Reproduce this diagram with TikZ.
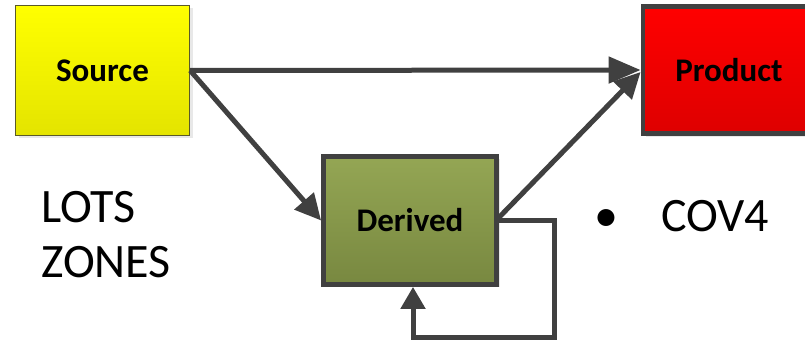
\documentclass[tikz,border=0pt]{standalone}
\usepackage{fontspec}
\setmainfont{Carlito}
\usetikzlibrary{arrows.meta,shadows}
\definecolor{edgegray}{RGB}{64,64,64}
\definecolor{srcedge}{RGB}{90,90,40}
\tikzset{
  box/.style={rectangle, inner sep=0pt, font=\fontsize{33}{39}\selectfont\bfseries,
    drop shadow={opacity=0.18, shadow xshift=3pt, shadow yshift=-3pt}},
  thickbox/.style={box, draw=edgegray, line width=4.8pt},
  conn/.style={draw=edgegray, line width=5pt, -{Triangle[length=26pt,width=25pt]}},
  bigtext/.style={font=\fontsize{48}{56}\selectfont, inner sep=0pt, anchor=base west}
}
\begin{document}
\begin{tikzpicture}[x=1pt,y=-1pt]
\useasboundingbox (0,0) rectangle (805,344);
\node[box, draw=srcedge, line width=1.3pt, minimum width=174pt, minimum height=130pt,
  top color={rgb,255:red,255;green,255;blue,0}, bottom color={rgb,255:red,228;green,228;blue,0}]
  (S) at (102.5,70.5) {Source};
\node[thickbox, minimum width=172pt, minimum height=127.5pt,
  top color={rgb,255:red,255;green,0;blue,0}, bottom color={rgb,255:red,222;green,0;blue,0}]
  (P) at (729,70) {Product};
\node[thickbox, minimum width=173pt, minimum height=128pt,
  top color={rgb,255:red,148;green,166;blue,84}, bottom color={rgb,255:red,120;green,136;blue,64}]
  (D) at (410,220.5) {Derived};
\coordinate (L1) at (554,337);
\draw[conn, -{Triangle[length=32pt,width=26pt]}] (S.east) -- (P.west);
\draw[conn] (S.east) -- (D.west);
\draw[conn] ([yshift=3pt]D.east) -- ([yshift=-2pt]P.west);
\draw[conn, -{Triangle[length=22pt,width=24pt]}] (D.east) -| (L1) -| ([xshift=3pt]D.south);
\node[bigtext] (t1) at (41,223) {LOTS};
\node[bigtext] (t2) at (41,278) {ZONES};
\node[bigtext] (b) at (594,232) {•};
\node[bigtext] (t3) at (661,232) {COV4};
\end{tikzpicture}
\end{document}
